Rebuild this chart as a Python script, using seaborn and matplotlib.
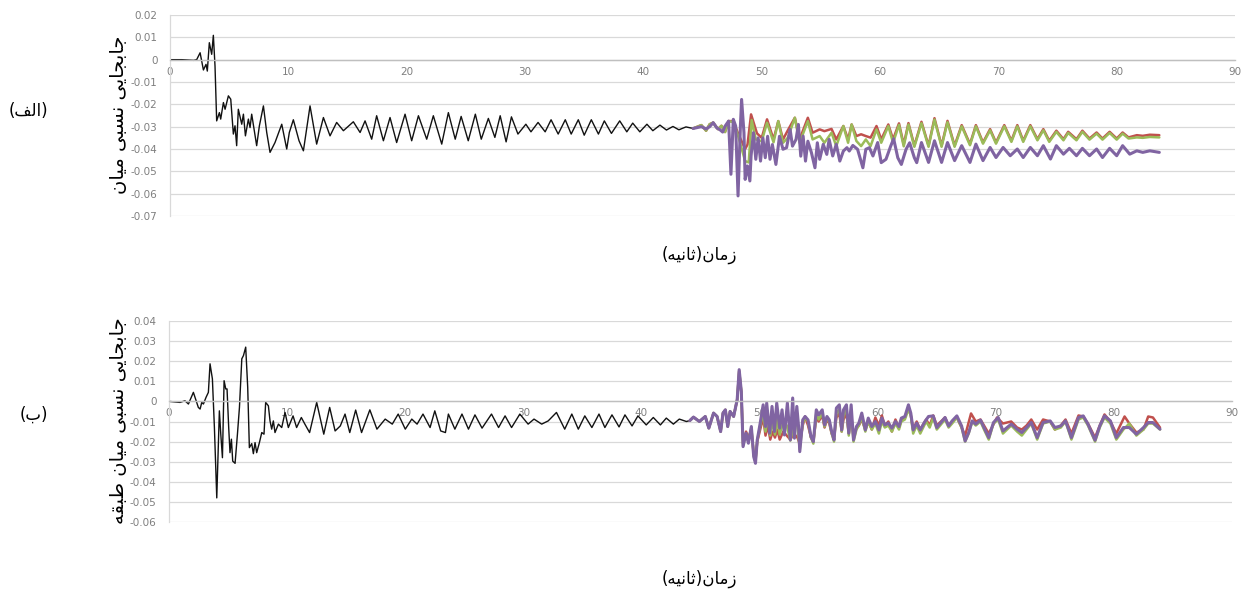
import matplotlib
matplotlib.use("Agg")
import matplotlib.pyplot as plt
import seaborn as sns
import pandas as pd
from matplotlib.ticker import FuncFormatter, MultipleLocator

# ---------------- data (time [s], relative drift) ----------------
top_black = [(0, 0), (1.0, 0), (2.0, -0.0003), (2.25, 0.0), (2.54, 0.0031), (2.82, -0.0046), (3.04, -0.0021),
             (3.15, -0.0051), (3.32, 0.0076), (3.52, 0.0024), (3.66, 0.0109), (3.80, -0.0028), (3.94, -0.0274),
             (4.17, -0.0237), (4.28, -0.0266), (4.51, -0.0192), (4.65, -0.0222), (4.93, -0.0162), (5.13, -0.0177),
             (5.35, -0.0333), (5.49, -0.0296), (5.63, -0.0385), (5.77, -0.0222), (6.06, -0.0289), (6.20, -0.0244),
             (6.37, -0.0341), (6.62, -0.0266), (6.76, -0.0304), (6.90, -0.0244), (7.32, -0.0385), (7.55, -0.0296),
             (7.89, -0.0207), (8.17, -0.0326), (8.45, -0.0415), (8.87, -0.0371), (9.44, -0.0289), (9.86, -0.0400),
             (10.08, -0.0326), (10.42, -0.0269), (10.90, -0.0363), (11.27, -0.0408), (11.83, -0.0207),
             (12.39, -0.0378), (12.96, -0.0259), (13.52, -0.0341), (14.08, -0.0281), (14.65, -0.0318),
             (15.49, -0.0278), (16.06, -0.0326), (16.48, -0.0274), (17.04, -0.0356), (17.46, -0.0251),
             (18.03, -0.0363), (18.59, -0.0259), (19.15, -0.0371), (19.86, -0.0244), (20.42, -0.0363),
             (20.99, -0.0251), (21.69, -0.0356), (22.25, -0.0251), (22.96, -0.0378), (23.52, -0.0237),
             (24.1, -0.0356), (24.6, -0.0254), (25.2, -0.0363), (25.8, -0.0244), (26.3, -0.0356), (26.9, -0.0263),
             (27.45, -0.0348), (27.9, -0.0251), (28.4, -0.0368), (28.85, -0.0256), (29.4, -0.0333), (30.07, -0.0289),
             (30.5, -0.0323), (31.1, -0.0281), (31.7, -0.0323), (32.2, -0.0269), (32.8, -0.0333), (33.4, -0.0269),
             (33.9, -0.0333), (34.5, -0.0269), (35.0, -0.0338), (35.6, -0.0269), (36.2, -0.0333), (36.7, -0.0274),
             (37.3, -0.0330), (38.0, -0.0274), (38.6, -0.0323), (39.1, -0.0284), (39.7, -0.0323), (40.3, -0.0289),
             (40.8, -0.0318), (41.4, -0.0293), (41.95, -0.0315), (42.5, -0.0299), (43.0, -0.0314), (43.6, -0.0301),
             (44.2, -0.0308)]

top_red = [(44.2, -0.0308), (44.9, -0.0293), (45.3, -0.0318), (45.6, -0.0289), (45.9, -0.0282), (46.3, -0.0311),
           (46.6, -0.0296), (46.9, -0.0324), (47.2, -0.0275), (47.6, -0.0275), (48.0, -0.0330), (48.6, -0.0400),
           (48.8, -0.0380), (49.1, -0.0245), (49.6, -0.0330), (50.0, -0.0350), (50.45, -0.0267), (51.0, -0.0357),
           (51.4, -0.0275), (51.8, -0.0357), (52.2, -0.0317), (52.8, -0.0260), (53.2, -0.0357), (53.9, -0.0260),
           (54.3, -0.0327), (54.9, -0.0312), (55.3, -0.0320), (55.9, -0.0310), (56.3, -0.0357), (56.9, -0.0297),
           (57.3, -0.0357), (57.6, -0.0290), (58.0, -0.0342), (58.4, -0.0334), (58.8, -0.0342), (59.2, -0.0349),
           (59.7, -0.0297), (60.1, -0.0357), (60.7, -0.0290), (61.1, -0.0357), (61.6, -0.0285), (62.0, -0.0380),
           (62.4, -0.0284), (62.9, -0.0385), (63.5, -0.0278), (64.1, -0.0385), (64.6, -0.0262), (65.2, -0.0385),
           (65.7, -0.0274), (66.3, -0.0385), (66.9, -0.0293), (67.6, -0.0378), (68.1, -0.0293), (68.7, -0.0371),
           (69.3, -0.0311), (69.8, -0.0371), (70.5, -0.0293), (71.1, -0.0363), (71.6, -0.0293), (72.1, -0.0363),
           (72.7, -0.0293), (73.3, -0.0356), (73.8, -0.0311), (74.3, -0.0363), (74.9, -0.0318), (75.5, -0.0356),
           (75.9, -0.0323), (76.6, -0.0356), (77.1, -0.0318), (77.7, -0.0353), (78.3, -0.0326), (78.8, -0.0353),
           (79.4, -0.0323), (80.0, -0.0353), (80.5, -0.0326), (81.0, -0.0348), (81.7, -0.0338), (82.2, -0.0341),
           (82.8, -0.0336), (83.6, -0.0338)]

top_green = [(44.2, -0.0308), (44.9, -0.0293), (45.3, -0.0318), (45.6, -0.0289), (45.9, -0.0282), (46.3, -0.0311),
             (46.6, -0.0296), (46.9, -0.0324), (47.2, -0.0275), (47.6, -0.0280), (48.0, -0.0340), (48.6, -0.0454),
             (48.9, -0.0460), (49.15, -0.0270), (49.5, -0.0357), (50.0, -0.0365), (50.45, -0.0282), (51.0, -0.0370),
             (51.4, -0.0275), (51.8, -0.0372), (52.2, -0.0350), (52.8, -0.0260), (53.2, -0.0372), (53.9, -0.0275),
             (54.3, -0.0357), (54.9, -0.0342), (55.3, -0.0372), (55.9, -0.0327), (56.3, -0.0387), (56.9, -0.0297),
             (57.3, -0.0372), (57.6, -0.0290), (58.0, -0.0364), (58.4, -0.0387), (58.8, -0.0357), (59.2, -0.0387),
             (59.7, -0.0312), (60.1, -0.0372), (60.7, -0.0297), (61.1, -0.0372), (61.6, -0.0292), (62.0, -0.0388),
             (62.4, -0.0290), (62.9, -0.0390), (63.5, -0.0284), (64.1, -0.0390), (64.6, -0.0268), (65.2, -0.0390),
             (65.7, -0.0280), (66.3, -0.0390), (66.9, -0.0298), (67.6, -0.0383), (68.1, -0.0298), (68.7, -0.0376),
             (69.3, -0.0316), (69.8, -0.0376), (70.5, -0.0298), (71.1, -0.0368), (71.6, -0.0298), (72.1, -0.0368),
             (72.7, -0.0298), (73.3, -0.0361), (73.8, -0.0316), (74.3, -0.0368), (74.9, -0.0323), (75.5, -0.0361),
             (75.9, -0.0328), (76.6, -0.0361), (77.1, -0.0323), (77.7, -0.0358), (78.3, -0.0331), (78.8, -0.0358),
             (79.4, -0.0328), (80.0, -0.0358), (80.5, -0.0331), (81.0, -0.0353), (81.7, -0.0348), (82.2, -0.0350),
             (82.8, -0.0346), (83.6, -0.0348)]

top_purple = [(44.2, -0.0308), (44.9, -0.0300), (45.3, -0.0310), (45.6, -0.0300), (45.9, -0.0282), (46.2, -0.0305),
              (46.5, -0.0315), (46.7, -0.0324), (46.9, -0.0298), (47.2, -0.0275), (47.4, -0.0513), (47.6, -0.0267),
              (47.8, -0.0297), (48.0, -0.0610), (48.2, -0.0297), (48.3, -0.0178), (48.5, -0.0327), (48.6, -0.0536),
              (48.8, -0.0476), (49.0, -0.0543), (49.1, -0.0431), (49.3, -0.0327), (49.5, -0.0446), (49.7, -0.0350),
              (49.9, -0.0454), (50.1, -0.0350), (50.3, -0.0439), (50.5, -0.0343), (50.7, -0.0446), (50.9, -0.0380),
              (51.2, -0.0469), (51.4, -0.0387), (51.5, -0.0343), (51.8, -0.0401), (52.1, -0.0394), (52.4, -0.0312),
              (52.6, -0.0387), (52.9, -0.0357), (53.1, -0.0290), (53.3, -0.0432), (53.5, -0.0342), (53.7, -0.0454),
              (53.9, -0.0365), (54.2, -0.0416), (54.5, -0.0484), (54.7, -0.0372), (54.9, -0.0446), (55.2, -0.0379),
              (55.5, -0.0424), (55.7, -0.0357), (56.0, -0.0431), (56.3, -0.0379), (56.6, -0.0454), (56.9, -0.0409),
              (57.2, -0.0394), (57.4, -0.0409), (57.7, -0.0384), (58.1, -0.0401), (58.55, -0.0484), (58.8, -0.0401),
              (59.1, -0.0394), (59.4, -0.0431), (59.8, -0.0371), (60.1, -0.0461), (60.5, -0.0446), (60.9, -0.0387),
              (61.15, -0.0354), (61.5, -0.0439), (61.8, -0.0469), (62.2, -0.0401), (62.5, -0.0372), (62.9, -0.0439),
              (63.1, -0.0461), (63.5, -0.0371), (64.1, -0.0460), (64.6, -0.0363), (65.2, -0.0460), (65.7, -0.0371),
              (66.3, -0.0452), (66.9, -0.0385), (67.6, -0.0460), (68.1, -0.0378), (68.7, -0.0452), (69.3, -0.0393),
              (69.8, -0.0438), (70.4, -0.0393), (71.0, -0.0430), (71.6, -0.0400), (72.1, -0.0438), (72.7, -0.0393),
              (73.3, -0.0430), (73.8, -0.0385), (74.4, -0.0445), (74.9, -0.0385), (75.5, -0.0423), (76.0, -0.0397),
              (76.6, -0.0430), (77.1, -0.0397), (77.7, -0.0430), (78.3, -0.0400), (78.8, -0.0438), (79.4, -0.0397),
              (80.0, -0.0430), (80.5, -0.0385), (81.1, -0.0423), (81.7, -0.0408), (82.2, -0.0415), (82.8, -0.0408),
              (83.6, -0.0415)]

bot_black = [(0, 0), (0.93, -0.0005), (1.35, 0.0003), (1.64, -0.0013), (2.06, 0.0045), (2.48, -0.0030),
             (2.63, -0.0038), (2.77, -0.0005), (2.91, -0.0013), (3.13, 0.0020), (3.33, 0.0045), (3.47, 0.0187),
             (3.67, 0.0112), (3.84, -0.0130), (4.04, -0.0480), (4.26, -0.0047), (4.38, -0.0163), (4.52, -0.0280),
             (4.66, 0.0103), (4.80, 0.0062), (4.91, 0.0062), (5.05, -0.0130), (5.16, -0.0255), (5.28, -0.0188),
             (5.39, -0.0297), (5.59, -0.0308), (5.79, -0.0163), (5.96, -0.0030), (6.16, 0.0212), (6.30, 0.0228),
             (6.49, 0.0270), (6.66, 0.0070), (6.80, -0.0230), (7.00, -0.0210), (7.14, -0.0260), (7.28, -0.0205),
             (7.42, -0.0255), (7.65, -0.0205), (7.85, -0.0155), (8.04, -0.0163), (8.18, -0.0005), (8.41, -0.0022),
             (8.55, -0.0097), (8.69, -0.0138), (8.83, -0.0097), (8.97, -0.0155), (9.26, -0.0113), (9.54, -0.0130),
             (9.82, -0.0055), (10.1, -0.0130), (10.5, -0.0072), (10.8, -0.0130), (11.2, -0.0080), (11.5, -0.0113),
             (11.9, -0.0155), (12.5, -0.0005), (13.1, -0.0163), (13.6, -0.0030), (14.06, -0.0147), (14.5, -0.0122),
             (14.9, -0.0063), (15.3, -0.0155), (15.8, -0.0043), (16.3, -0.0155), (17.0, -0.0042), (17.6, -0.0138),
             (18.3, -0.0088), (18.9, -0.0113), (19.4, -0.0063), (20.0, -0.0138), (20.55, -0.0088), (21.0, -0.0113),
             (21.5, -0.0063), (22.1, -0.0130), (22.5, -0.0047), (23.0, -0.0147), (23.4, -0.0155), (23.65, -0.0063),
             (24.2, -0.0138), (24.8, -0.0063), (25.35, -0.0138), (25.9, -0.0067), (26.5, -0.0133), (27.3, -0.0063),
             (27.9, -0.0130), (28.45, -0.0072), (29.0, -0.0130), (29.7, -0.0063), (30.4, -0.0113), (30.9, -0.0088),
             (31.55, -0.0113), (32.1, -0.0097), (32.8, -0.0055), (33.5, -0.0138), (34.1, -0.0063), (34.65, -0.0138),
             (35.2, -0.0072), (35.8, -0.0130), (36.4, -0.0063), (36.9, -0.0130), (37.5, -0.0067), (38.1, -0.0127),
             (38.6, -0.0067), (39.2, -0.0122), (39.7, -0.0072), (40.4, -0.0117), (41.0, -0.0080), (41.6, -0.0117),
             (42.1, -0.0083), (42.7, -0.0113), (43.2, -0.0088), (43.8, -0.0100), (44.1, -0.0095)]

bot_purple = [(44.1, -0.0095), (44.4, -0.0078), (44.9, -0.0100), (45.4, -0.0075), (45.7, -0.0133), (46.1, -0.0058),
              (46.4, -0.0075), (46.7, -0.0150), (46.9, -0.0058), (47.1, -0.0042), (47.3, -0.0125), (47.5, -0.0050),
              (47.8, -0.0075), (48.1, 0.0008), (48.27, 0.0158), (48.45, 0.0050), (48.6, -0.0225), (48.85, -0.0158),
              (49.05, -0.0208), (49.3, -0.0125), (49.5, -0.0275), (49.65, -0.0308), (49.8, -0.0192), (50.05, -0.0108),
              (50.3, -0.0017), (50.5, -0.0125), (50.6, -0.0008), (50.85, -0.0158), (51.05, -0.0025), (51.25, -0.0150),
              (51.45, -0.0008), (51.7, -0.0133), (51.9, -0.0042), (52.1, -0.0167), (52.35, -0.0008), (52.6, -0.0192),
              (52.8, 0.0017), (52.95, -0.0183), (53.15, -0.0025), (53.3, -0.0125), (53.4, -0.0250), (53.65, -0.0092),
              (53.85, -0.0075), (54.1, -0.0092), (54.35, -0.0175), (54.55, -0.0200), (54.8, -0.0042), (55.0, -0.0067),
              (55.3, -0.0042), (55.5, -0.0117), (55.7, -0.0075), (55.9, -0.0092), (56.1, -0.0150), (56.3, -0.0192),
              (56.5, -0.0033), (56.75, -0.0017), (56.95, -0.0142), (57.1, -0.0042), (57.35, -0.0017), (57.55, -0.0158),
              (57.75, -0.0017), (57.95, -0.0192), (58.2, -0.0125), (58.4, -0.0108), (58.65, -0.0058), (58.95, -0.0142),
              (59.2, -0.0083), (59.5, -0.0125), (59.8, -0.0100), (60.1, -0.0142), (60.35, -0.0083), (60.6, -0.0117),
              (60.9, -0.0108), (61.2, -0.0133), (61.5, -0.0100), (61.8, -0.0125), (62.0, -0.0083), (62.3, -0.0075),
              (62.6, -0.0017), (62.8, -0.0058), (63.0, -0.0142), (63.3, -0.0108), (63.6, -0.0142), (64.0, -0.0100),
              (64.3, -0.0075), (64.7, -0.0072), (65.0, -0.0130), (65.7, -0.0080), (66.0, -0.0122), (66.3, -0.0097),
              (66.7, -0.0072), (67.1, -0.0122), (67.4, -0.0197), (67.7, -0.0155), (68.0, -0.0097), (68.3, -0.0113),
              (68.7, -0.0093), (69.0, -0.0130), (69.4, -0.0180), (69.8, -0.0105), (70.2, -0.0080), (70.6, -0.0147),
              (71.3, -0.0113), (71.8, -0.0138), (72.2, -0.0155), (72.6, -0.0130), (73.0, -0.0105), (73.5, -0.0180),
              (74.0, -0.0105), (74.6, -0.0097), (75.0, -0.0130), (75.5, -0.0122), (75.9, -0.0097), (76.4, -0.0180),
              (77.0, -0.0080), (77.4, -0.0072), (77.8, -0.0113), (78.4, -0.0193), (78.8, -0.0122), (79.2, -0.0072),
              (79.7, -0.0097), (80.2, -0.0180), (80.8, -0.0130), (81.3, -0.0130), (81.9, -0.0163), (82.5, -0.0130),
              (82.9, -0.0105), (83.3, -0.0105), (83.9, -0.0138)]

bot_red = [(44.1, -0.0095), (44.4, -0.0078), (44.9, -0.0100), (45.4, -0.0075), (45.7, -0.0133), (46.1, -0.0058),
           (46.4, -0.0075), (46.7, -0.0150), (46.9, -0.0058), (47.1, -0.0042), (47.3, -0.0125), (47.5, -0.0050),
           (47.8, -0.0075), (48.1, 0.0008), (48.27, 0.0150), (48.45, 0.0045), (48.6, -0.0210), (48.85, -0.0150),
           (49.05, -0.0180), (49.3, -0.0140), (49.5, -0.0260), (49.65, -0.0290), (49.8, -0.0200), (50.05, -0.0140),
           (50.3, -0.0080), (50.5, -0.0170), (50.7, -0.0120), (50.9, -0.0190), (51.1, -0.0150), (51.3, -0.0180),
           (51.5, -0.0140), (51.7, -0.0190), (52.0, -0.0150), (52.3, -0.0170), (52.6, -0.0190), (52.9, -0.0160),
           (53.2, -0.0180), (53.4, -0.0210), (53.65, -0.0120), (53.85, -0.0075), (54.1, -0.0120), (54.35, -0.0180),
           (54.55, -0.0200), (54.8, -0.0080), (55.0, -0.0100), (55.3, -0.0070), (55.5, -0.0130), (55.7, -0.0090),
           (55.9, -0.0110), (56.1, -0.0160), (56.3, -0.0180), (56.5, -0.0080), (56.75, -0.0060), (56.95, -0.0150),
           (57.1, -0.0090), (57.35, -0.0060), (57.55, -0.0160), (57.75, -0.0070), (57.95, -0.0180), (58.2, -0.0130),
           (58.4, -0.0120), (58.65, -0.0090), (58.95, -0.0140), (59.2, -0.0100), (59.5, -0.0140), (59.8, -0.0080),
           (60.1, -0.0120), (60.35, -0.0070), (60.6, -0.0120), (60.9, -0.0100), (61.2, -0.0150), (61.5, -0.0090),
           (61.8, -0.0130), (62.0, -0.0090), (62.3, -0.0080), (62.6, -0.0030), (62.8, -0.0070), (63.0, -0.0140),
           (63.3, -0.0100), (63.6, -0.0140), (64.1, -0.0090), (64.4, -0.0120), (64.7, -0.0070), (65.0, -0.0120),
           (65.7, -0.0080), (66.0, -0.0120), (66.3, -0.0100), (66.7, -0.0080), (67.1, -0.0130), (67.4, -0.0170),
           (67.9, -0.0060), (68.3, -0.0100), (68.7, -0.0090), (69.0, -0.0120), (69.4, -0.0160), (70.1, -0.0080),
           (70.6, -0.0110), (71.3, -0.0100), (71.8, -0.0130), (72.2, -0.0140), (72.6, -0.0120), (73.0, -0.0090),
           (73.5, -0.0140), (74.0, -0.0090), (74.6, -0.0100), (75.0, -0.0140), (75.5, -0.0120), (75.9, -0.0090),
           (76.4, -0.0160), (77.0, -0.0070), (77.4, -0.0075), (77.8, -0.0110), (78.4, -0.0180), (78.8, -0.0120),
           (79.2, -0.0065), (79.7, -0.0100), (80.2, -0.0160), (80.9, -0.0075), (81.3, -0.0110), (81.9, -0.0155),
           (82.5, -0.0140), (82.9, -0.0075), (83.3, -0.0080), (83.9, -0.0130)]

bot_green = [(44.1, -0.0095), (44.4, -0.0078), (44.9, -0.0100), (45.4, -0.0075), (45.7, -0.0133), (46.1, -0.0058),
             (46.4, -0.0075), (46.7, -0.0150), (46.9, -0.0058), (47.1, -0.0042), (47.3, -0.0125), (47.5, -0.0050),
             (47.8, -0.0075), (48.1, 0.0008), (48.27, 0.0152), (48.45, 0.0048), (48.6, -0.0220), (48.85, -0.0160),
             (49.05, -0.0200), (49.3, -0.0130), (49.5, -0.0270), (49.65, -0.0300), (49.8, -0.0195), (50.05, -0.0120),
             (50.3, -0.0060), (50.5, -0.0150), (50.7, -0.0080), (50.9, -0.0170), (51.1, -0.0100), (51.3, -0.0165),
             (51.5, -0.0090), (51.7, -0.0165), (52.0, -0.0100), (52.3, -0.0120), (52.6, -0.0195), (52.9, -0.0120),
             (53.2, -0.0120), (53.4, -0.0240), (53.65, -0.0110), (53.85, -0.0080), (54.1, -0.0100), (54.35, -0.0180),
             (54.55, -0.0210), (54.8, -0.0060), (55.0, -0.0090), (55.3, -0.0060), (55.5, -0.0125), (55.7, -0.0085),
             (55.9, -0.0100), (56.1, -0.0160), (56.3, -0.0200), (56.5, -0.0060), (56.75, -0.0040), (56.95, -0.0150),
             (57.1, -0.0070), (57.35, -0.0040), (57.55, -0.0170), (57.75, -0.0050), (57.95, -0.0200), (58.2, -0.0140),
             (58.4, -0.0120), (58.65, -0.0080), (58.95, -0.0150), (59.2, -0.0100), (59.5, -0.0140), (59.8, -0.0110),
             (60.1, -0.0160), (60.35, -0.0100), (60.6, -0.0130), (60.9, -0.0120), (61.2, -0.0150), (61.5, -0.0110),
             (61.8, -0.0140), (62.0, -0.0100), (62.3, -0.0090), (62.6, -0.0040), (62.8, -0.0070), (63.0, -0.0160),
             (63.3, -0.0120), (63.6, -0.0160), (64.1, -0.0100), (64.4, -0.0130), (64.7, -0.0080), (65.0, -0.0140),
             (65.7, -0.0090), (66.0, -0.0130), (66.3, -0.0110), (66.7, -0.0080), (67.1, -0.0130), (67.4, -0.0200),
             (67.7, -0.0160), (68.0, -0.0100), (68.3, -0.0120), (68.7, -0.0100), (69.0, -0.0140), (69.4, -0.0190),
             (69.8, -0.0110), (70.2, -0.0090), (70.6, -0.0160), (71.3, -0.0120), (71.8, -0.0150), (72.2, -0.0170),
             (72.6, -0.0140), (73.0, -0.0110), (73.5, -0.0190), (74.0, -0.0110), (74.6, -0.0100), (75.0, -0.0140),
             (75.5, -0.0130), (75.9, -0.0100), (76.4, -0.0190), (77.0, -0.0090), (77.4, -0.0080), (77.8, -0.0120),
             (78.4, -0.0200), (78.8, -0.0130), (79.2, -0.0080), (79.7, -0.0110), (80.2, -0.0190), (80.8, -0.0140),
             (81.3, -0.0110), (81.9, -0.0170), (82.5, -0.0140), (82.9, -0.0110), (83.3, -0.0110), (83.9, -0.0140)]

x_ticks = [0, 10, 20, 30, 40, 50, 60, 70, 80, 90]
top_ylim = (-0.07, 0.02)
bot_ylim = (-0.06, 0.04)

ylabel_top = "جابجایی نسبی میان"
ylabel_bot = "جابجایی نسبی میان طبقه"
xlabel_txt = "زمان(ثانیه)"
panel_a = "(الف)"
panel_b = "(ب)"

# ------------- simple Arabic-script shaping (presentation forms) -------------
FORMS = {
    'ا': ('\uFE8D', '\uFE8E', None, None),
    'ب': ('\uFE8F', '\uFE90', '\uFE91', '\uFE92'),
    'ث': ('\uFE99', '\uFE9A', '\uFE9B', '\uFE9C'),
    'ج': ('\uFE9D', '\uFE9E', '\uFE9F', '\uFEA0'),
    'ز': ('\uFEAF', '\uFEB0', None, None),
    'س': ('\uFEB1', '\uFEB2', '\uFEB3', '\uFEB4'),
    'ط': ('\uFEC1', '\uFEC2', '\uFEC3', '\uFEC4'),
    'ف': ('\uFED1', '\uFED2', '\uFED3', '\uFED4'),
    'ق': ('\uFED5', '\uFED6', '\uFED7', '\uFED8'),
    'ل': ('\uFEDD', '\uFEDE', '\uFEDF', '\uFEE0'),
    'م': ('\uFEE1', '\uFEE2', '\uFEE3', '\uFEE4'),
    'ن': ('\uFEE5', '\uFEE6', '\uFEE7', '\uFEE8'),
    'ه': ('\uFEE9', '\uFEEA', '\uFEEB', '\uFEEC'),
    'ی': ('\uFEEF', '\uFEF0', '\uFEF3', '\uFEF4'),
}


def shape(s):
    out = []
    n = len(s)
    for i, ch in enumerate(s):
        if ch not in FORMS:
            out.append(ch)
            continue
        prev = s[i - 1] if i > 0 else ''
        nxt = s[i + 1] if i < n - 1 else ''
        jp = prev in FORMS and FORMS[prev][2] is not None
        jn = nxt in FORMS and FORMS[ch][2] is not None
        f = FORMS[ch]
        if jp and jn:
            out.append(f[3])
        elif jp:
            out.append(f[1])
        elif jn:
            out.append(f[2])
        else:
            out.append(f[0])
    vis = ''.join(reversed(out))
    return vis.translate(str.maketrans('()', ')('))


# ---------------- style ----------------
sns.set_theme(style="white")
plt.rcParams['font.family'] = ['DejaVu Sans']

RED, GREEN, PURPLE, BLACK = '#C0504D', '#9BBB59', '#8064A2', '#111111'
GRID = '#d9d9d9'
TICK = '#7f7f7f'

fig = plt.figure(figsize=(12.43, 5.93), dpi=100)
ax1 = fig.add_axes([0.1368, 0.6357, 0.8568, 0.3390])
ax2 = fig.add_axes([0.1360, 0.1197, 0.8552, 0.3390])


def to_df(pairs):
    return pd.DataFrame(pairs, columns=['t', 'v'])


def draw(ax, black, red, green, purple, ylim):
    sns.lineplot(data=to_df(black), x='t', y='v', ax=ax, color=BLACK, lw=1.0, estimator=None, sort=False)
    sns.lineplot(data=to_df(red), x='t', y='v', ax=ax, color=RED, lw=1.8, estimator=None, sort=False)
    sns.lineplot(data=to_df(green), x='t', y='v', ax=ax, color=GREEN, lw=1.8, estimator=None, sort=False)
    sns.lineplot(data=to_df(purple), x='t', y='v', ax=ax, color=PURPLE, lw=2.2, estimator=None, sort=False)
    ax.set_xlim(0, 90)
    ax.set_ylim(*ylim)
    ax.set_xticks(x_ticks)
    ax.yaxis.set_major_locator(MultipleLocator(0.01))
    ax.yaxis.set_major_formatter(FuncFormatter(lambda v, p: '0' if abs(v) < 1e-9 else f'{v:.2f}'))
    ax.set_xlabel('')
    ax.set_ylabel('')
    ax.grid(axis='y', color=GRID, lw=0.9)
    ax.grid(axis='x', visible=False)
    ax.set_axisbelow(True)
    for s in ('top', 'right'):
        ax.spines[s].set_visible(False)
    ax.spines['left'].set_color(GRID)
    ax.spines['left'].set_linewidth(0.9)
    ax.spines['bottom'].set_position(('data', 0))
    ax.spines['bottom'].set_color('#bfbfbf')
    ax.spines['bottom'].set_linewidth(1.0)
    ax.tick_params(axis='both', length=0, labelsize=7.5, labelcolor=TICK)
    ax.tick_params(axis='y', pad=9)
    ax.tick_params(axis='x', pad=5)


draw(ax1, top_black, top_red, top_green, top_purple, top_ylim)
draw(ax2, bot_black, bot_red, bot_green, bot_purple, bot_ylim)

fig.text(0.095, 0.806, shape(ylabel_top), rotation=90, ha='center', va='center', fontsize=14, color='black')
fig.text(0.095, 0.290, shape(ylabel_bot), rotation=90, ha='center', va='center', fontsize=14, color='black')
fig.text(0.563, 0.570, shape(xlabel_txt), ha='center', va='center', fontsize=12, color='black')
fig.text(0.563, 0.024, shape(xlabel_txt), ha='center', va='center', fontsize=12, color='black')
fig.text(0.023, 0.813, shape(panel_a), ha='center', va='center', fontsize=12, color='black')
fig.text(0.027, 0.300, shape(panel_b), ha='center', va='center', fontsize=12, color='black')

fig.savefig('out.png', dpi=100)
